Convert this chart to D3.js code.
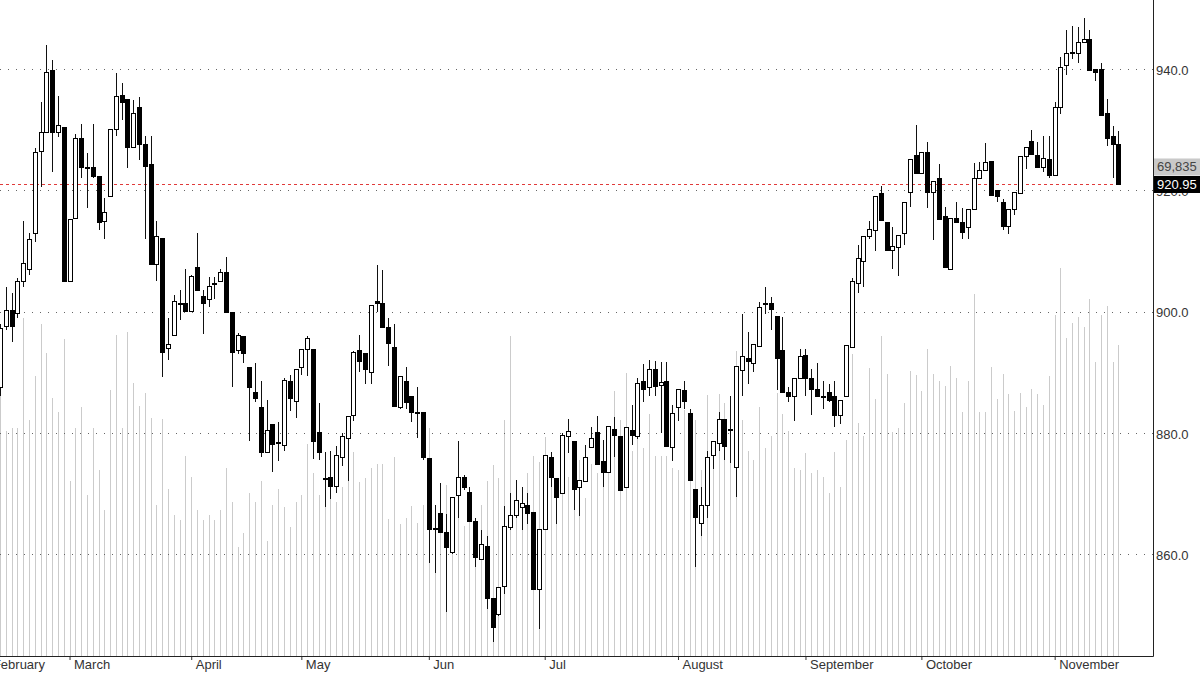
<!DOCTYPE html>
<meta charset="utf-8">
<style>

body {
  margin: 0;
  background: #fff;
}

text {
  font-family: "Liberation Sans", Arial, sans-serif;
  font-size: 13px;
  fill: #333;
}

.grid line {
  stroke: #666;
  stroke-dasharray: 1,7;
}

.vol line {
  stroke: #cbcbcb;
}

</style>
<svg></svg>
<script src="https://d3js.org/d3.v7.min.js"></script>
<script>

// daily OHLC, one entry per trading session (index = session number)
var opens = [887.5,897.6,900.1,899.6,904.9,907,912.8,926.4,929.6,939.7,929.6,930.4,904.9,915.4,928.5,923.7,923.7,922.2,914.8,919,
  930,935.7,934.9,927,933.6,927.6,924.3,907.8,912.1,893.9,896.1,901.3,901.4,900,907.2,902.5,902,904.6,904.9,906.5,
  899.9,893.6,895.8,890.8,886.6,884.2,876.8,881.3,878.3,877.9,888.4,885.2,890.7,893.8,893.8,880.1,872.4,872.6,871.1,876,
  879,882.8,893.5,893,890,901.7,901.4,897.4,894.1,884.1,888.5,886,883.3,883.3,875.7,864.1,866.6,863.6,860.3,869.6,
  872.6,870.2,865.3,859.1,861.2,852.6,850.1,854.6,864.3,866.3,867.6,868,866.8,854.2,864.1,876,872.5,869.9,879.3,878.6,
  871,871.9,877.6,880,875.2,873.5,880.6,879.4,870.9,880.3,879.3,888.4,887.5,890.4,887.8,888.4,877.6,884.2,887,883.1,
  870.6,865,868,876.3,878.3,882.2,880.3,874.3,890.2,892.2,891.5,894.3,901.2,901.4,899.1,893.6,886.7,885.9,888.9,892.7,
  888.9,887.2,885.9,886.7,885.9,882.8,886,894,904.7,908.3,912.4,913.3,919.4,914.6,910,910.6,912.8,919.6,925.8,922.8,
  926.3,919.7,921.9,915.6,907,915.4,914.6,913.9,916.9,922,923.2,924.7,919.9,918,914,916.8,919.5,925.5,928,925.8,
  923.8,925,922.5,933.7,940.5,942.5,942.6,944.3,944.8,940,940,932.6,928.8,927.5];
var highs = [898,904,903,905.5,915,913,927,934.6,944,941.5,935.5,930.5,915.2,929.3,931,926.1,931,922.2,918.7,930,
  939.3,937.7,935,934.9,935.4,929,929,915,912.1,899,902.8,903.6,907,906,913,903.5,905.7,905.7,907,909,
  899.9,896.5,895.8,890.8,891.5,888.6,885.4,881.3,881.7,889,889.6,890.4,893.8,896,893.8,884.9,876.8,877,877.8,880,
  882.6,893.5,896.1,893,901,907.7,906.8,899,898,889.2,890.9,886,887.6,883.3,875.7,868.1,871.7,866.6,869.4,878.6,
  873,871,866,864,863,852.6,854.6,867.9,870,872.2,871,870,866.8,864.1,876.2,876.8,872.5,880,882.2,878.6,
  872.1,878,881,882.8,878.8,881,882.6,879.4,880.8,884.5,889,891.4,892,891.8,891.7,891.7,884.5,887.2,888.5,884,
  870.6,871,877,878.5,883.5,882.2,886,890.9,899.6,896.7,894.5,901.5,904.1,902.4,899.1,899.1,887.5,889,893.8,893.8,
  890.5,891.5,888.5,888,888.5,885.4,894.4,905.5,911,912.3,915,918.9,920.7,914.6,914,912.5,918,925,930.8,926.3,
  928,921.5,924.3,917.2,915.3,918,917,916.9,924.5,924.6,927.8,924.7,919.9,918.5,916.8,919.7,925.5,927.1,930,928,
  929,929,934.6,942,946.5,947.1,947,948.4,946.5,940,941,935,930.6,929.8];
var lows = [886,897,895,899,904,906,911.5,920.5,929.6,923,928.8,904.9,904.9,915.4,922,917,922,913.5,912,919,
  929,931.6,923.6,927,925,912,907.8,905,889.2,892,896,898.6,900,900,903.4,896.3,900.8,902,904.9,899.8,
  887.5,893,891.5,878.7,885,876,876.8,873.5,875.3,877,883.6,882.4,889.5,889.4,875.7,875.5,867.8,869,870,874.5,
  872,882,890,888,888,900,897.4,891,884.4,884,884,881.7,879.1,875.5,858.5,856.8,863.5,850.5,860,866,
  870.5,865.3,857.8,859,851,845.5,849.8,853.4,864,866,864,865,854.2,847.6,864.1,871,865,869.9,876.6,867.2,
  866.3,871.9,877.6,874.7,871,873.5,876,870.5,870.9,878,879,885,886,886,880,877.8,875.4,882,884,872.2,
  857.8,863,866,874,877,875.5,875,869.4,886,888,890,894.3,899.6,897,887,886.7,885,882,888.9,886,
  883,885.9,884,885,881,881.5,886,894,903,904,912,910,915,910,907,905.8,911,917.2,922.8,922.8,
  917,911.8,915.1,907.3,907,914.6,912,912,916.9,922,923.2,919.2,918,913.5,912.8,916,919.5,923.5,925.9,923.8,
  923,922,922.5,932.5,939,941.6,941,944.3,939.7,938,932.4,927.3,922,920.95];
var closes = [897.2,900.1,897.5,904.9,908,911.8,926.2,929.6,939.5,929.6,930.6,904.9,915.2,928.6,923.7,923.8,922.2,914.6,916.3,930,
  935.4,934.4,927,932.7,927.6,924,907.8,912.3,893.3,894.6,901.6,901.4,900,905.7,903.4,901.4,904.2,904.7,906.4,899.8,
  893.2,896.1,893,887.5,885.6,876.7,880.3,878,878.4,888.6,885.7,890.4,893.8,895.5,878.6,876.8,872.5,871.2,876.2,879.3,
  882.6,893.2,891.8,890.5,901,901.4,897.4,894.8,884.4,889.2,885,883.3,883.4,876,864,864.2,863.5,861,869.4,872.6,
  870.9,865.3,859.5,861.5,852.7,847.8,854.4,864.5,866.4,868.9,868.4,866.6,854.2,864.1,876.2,872.7,869.4,879.6,880.2,870.7,
  872.1,876,879,874.7,873.5,881,879.6,870.5,880.8,879.5,888.2,887.2,890.4,887.7,888.3,877.8,883.1,887.2,885.1,872.2,
  866.1,868,876,878.5,882.2,877.8,880.6,890.9,892.5,891.7,894.5,900.6,901.3,900.4,892.3,886.7,885.9,889,892.5,888.9,
  887.1,885.9,886,885.4,882.9,885.4,894.4,905,908.7,912.3,913.6,918.9,915,910,910.7,912.5,918,925,922.8,926.3,
  919.7,921.5,915.1,907.3,915.3,914.6,913,916.9,922,923.2,924.5,919.2,919,914,916.8,919.7,925.5,927.1,925.9,923.8,
  925.2,922.5,933.7,940.3,942.6,942.7,944.3,944.8,939.7,939.5,932.4,928.5,927.5,920.95];
var volumes = [61800,50600,51100,51100,75900,52900,62900,74600,68100,58000,54900,71200,39400,51300,56000,36100,51300,41700,32700,59800,
  72100,51300,72800,61400,56200,59100,53500,33800,53300,37600,31600,30500,44800,40100,32700,30500,31600,30500,32700,42300,
  34500,24400,27600,36500,34500,39200,25800,34000,37600,33400,28900,34500,36100,47700,41000,36100,37600,37900,34500,37900,
  41700,45900,39000,39900,42300,43000,43200,30700,44600,29600,30900,33600,29800,34000,51100,33800,33200,38300,24400,31100,
  29300,34900,30500,33800,39400,42800,39900,53100,71900,37900,31100,41200,44800,43500,49100,43900,36100,41700,40100,37900,
  43900,35400,43200,41000,39000,49100,59600,52900,63600,46100,51300,46600,54400,45000,45000,45000,42300,41700,55300,54400,
  52900,41700,58500,45000,58900,56700,48400,68500,52900,46100,43900,56000,46600,49500,59100,54400,50600,42300,41700,45500,
  41000,41700,40100,36700,45700,37900,48400,67900,52400,49500,64700,57600,71900,63400,50200,51100,56700,64100,63200,59600,
  69000,63400,61800,60700,65200,62500,54700,61800,81300,54900,54900,65000,57600,63400,58900,55100,59100,56000,60000,58900,
  56400,62900,76600,87100,71500,74800,76200,73900,80200,66100,76600,78600,66100,69835];

// first session of each month (February starts before the visible window)
var monthNames = ["February","March","April","May","Jun","Jul","August","September","October","November"];
var monthStart = [-2,12,33,52,74,94,117,139,159,182];
var priceTicks = [860,880,900,920,940];

var candles = d3.range(opens.length).map(function(i) {
  return {i: i, o: opens[i], h: highs[i], l: lows[i], c: closes[i], v: volumes[i]};
});
var last = candles[candles.length - 1];

var svg = d3.select("svg")
    .attr("width", 1200)
    .attr("height", 674),
    plotRight = 1153,
    plotBottom = 656;

var x = d3.scaleLinear().domain([0, 193]).range([0, 1118.4]);
var y = d3.scaleLinear().domain([860, 940]).range([554, 69]);
var yVol = d3.scaleLinear().domain([0, 147300]).range([plotBottom, 0]);

function px(i) { return Math.round(x(i)) + 0.5; }

/*VOLUME*/
svg.append("g")
    .attr("class", "vol")
    .attr("shape-rendering", "crispEdges")
  .selectAll("line")
  .data(candles)
  .enter().append("line")
    .attr("x1", function(d) { return px(d.i); })
    .attr("x2", function(d) { return px(d.i); })
    .attr("y1", plotBottom)
    .attr("y2", function(d) { return yVol(d.v); });

/*GRID*/
svg.append("g")
    .attr("class", "grid")
  .selectAll("line")
  .data(priceTicks)
  .enter().append("line")
    .attr("x1", 0)
    .attr("x2", plotRight)
    .attr("y1", function(d) { return Math.round(y(d)) + 0.5; })
    .attr("y2", function(d) { return Math.round(y(d)) + 0.5; });

// last price line
svg.append("line")
    .attr("x1", 0)
    .attr("x2", px(last.i) + 2)
    .attr("y1", Math.round(y(last.c)) + 0.5)
    .attr("y2", Math.round(y(last.c)) + 0.5)
    .style("stroke", "#e03a3a")
    .style("stroke-dasharray", "3,3");

/*CANDLES*/
var candle = svg.append("g")
    .attr("shape-rendering", "crispEdges")
  .selectAll("g")
  .data(candles)
  .enter().append("g");

candle.append("line")
    .attr("x1", function(d) { return px(d.i); })
    .attr("x2", function(d) { return px(d.i); })
    .attr("y1", function(d) { return y(d.h); })
    .attr("y2", function(d) { return y(d.l); })
    .style("stroke", "#111");

candle.append("rect")
    .attr("x", function(d) { return px(d.i) - 2; })
    .attr("width", 4)
    .attr("y", function(d) { return y(Math.max(d.o, d.c)); })
    .attr("height", function(d) { return Math.max(1, Math.abs(y(d.o) - y(d.c))); })
    .style("fill", function(d) { return d.c >= d.o ? "#fff" : "#000"; })
    .style("stroke", "#000");

/*AXES*/
var xAxis = svg.append("g")
    .attr("transform", "translate(0," + plotBottom + ")")
    .call(d3.axisBottom(x)
      .tickValues(monthStart)
      .tickSize(4)
      .tickFormat(function(d, i) { return monthNames[i]; }));
xAxis.select(".domain").remove();
xAxis.selectAll("line").style("stroke", "#333");
xAxis.selectAll("text")
    .attr("text-anchor", "start")
    .attr("x", 4)
    .attr("y", 4)
    .style("fill", "#333");

var yAxis = svg.append("g")
    .attr("transform", "translate(" + plotRight + ",0)")
    .call(d3.axisRight(y)
      .tickValues(priceTicks)
      .tickSize(0)
      .tickPadding(3)
      .tickFormat(d3.format(".1f")));
yAxis.select(".domain").remove();
yAxis.selectAll("text").attr("dy", "0.42em").style("fill", "#333");

svg.append("line")
    .attr("x1", 0).attr("x2", plotRight + 0.5)
    .attr("y1", plotBottom + 0.5).attr("y2", plotBottom + 0.5)
    .style("stroke", "#222");
svg.append("line")
    .attr("x1", plotRight + 0.5).attr("x2", plotRight + 0.5)
    .attr("y1", 0).attr("y2", plotBottom + 0.5)
    .style("stroke", "#222");

/*LAST VALUE TAGS*/
var tagY = y(last.c);
svg.append("rect")
    .attr("x", plotRight + 1).attr("y", tagY - 26)
    .attr("width", 47).attr("height", 17)
    .style("fill", "#c9c9c9");
svg.append("text")
    .attr("x", plotRight + 4).attr("y", tagY - 13)
    .style("fill", "#444")
    .text(d3.format(",")(last.v));
svg.append("rect")
    .attr("x", plotRight + 1).attr("y", tagY - 8.5)
    .attr("width", 47).attr("height", 17)
    .style("fill", "#000");
svg.append("text")
    .attr("x", plotRight + 4).attr("y", tagY + 4.5)
    .style("fill", "#fff")
    .text(d3.format(".2f")(last.c));

</script>
